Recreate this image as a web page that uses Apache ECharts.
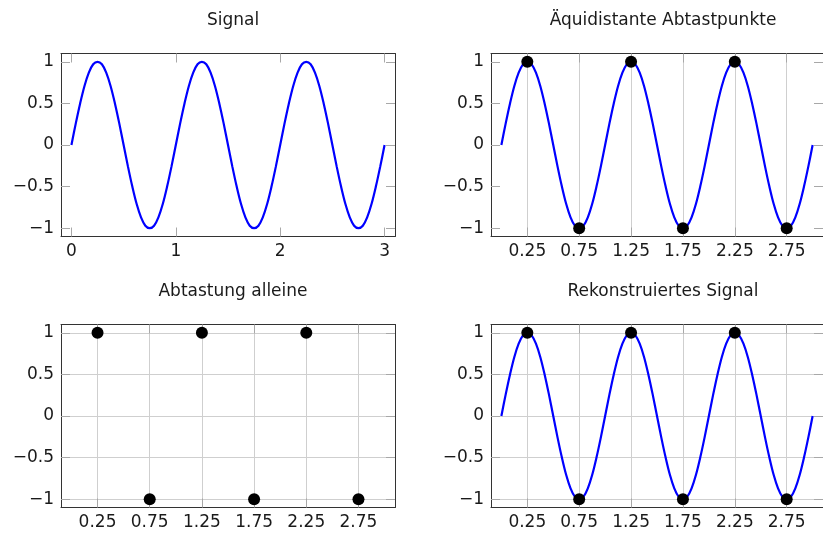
<!DOCTYPE html>
<html>
<head>
<meta charset="utf-8">
<script src="https://cdn.jsdelivr.net/npm/echarts@6/dist/echarts.min.js"></script>
<style>
  html, body { margin: 0; padding: 0; background: #fff; }
  #chart { width: 823px; height: 533px; }
</style>
</head>
<body>
<div id="chart"></div>
<script>
// Continuous signal, sampled finely along time t (step 1/24)
const signalT = [
  0, 0.0417, 0.0833, 0.125, 0.1667, 0.2083, 0.25, 0.2917, 0.3333, 0.375, 0.4167, 0.4583,
  0.5, 0.5417, 0.5833, 0.625, 0.6667, 0.7083, 0.75, 0.7917, 0.8333, 0.875, 0.9167, 0.9583,
  1, 1.0417, 1.0833, 1.125, 1.1667, 1.2083, 1.25, 1.2917, 1.3333, 1.375, 1.4167, 1.4583,
  1.5, 1.5417, 1.5833, 1.625, 1.6667, 1.7083, 1.75, 1.7917, 1.8333, 1.875, 1.9167, 1.9583,
  2, 2.0417, 2.0833, 2.125, 2.1667, 2.2083, 2.25, 2.2917, 2.3333, 2.375, 2.4167, 2.4583,
  2.5, 2.5417, 2.5833, 2.625, 2.6667, 2.7083, 2.75, 2.7917, 2.8333, 2.875, 2.9167, 2.9583,
  3
];
const signalY = [
  0, 0.26, 0.5, 0.71, 0.87, 0.97, 1, 0.97, 0.87, 0.71, 0.5, 0.26,
  0, -0.26, -0.5, -0.71, -0.87, -0.97, -1, -0.97, -0.87, -0.71, -0.5, -0.26,
  0, 0.26, 0.5, 0.71, 0.87, 0.97, 1, 0.97, 0.87, 0.71, 0.5, 0.26,
  0, -0.26, -0.5, -0.71, -0.87, -0.97, -1, -0.97, -0.87, -0.71, -0.5, -0.26,
  0, 0.26, 0.5, 0.71, 0.87, 0.97, 1, 0.97, 0.87, 0.71, 0.5, 0.26,
  0, -0.26, -0.5, -0.71, -0.87, -0.97, -1, -0.97, -0.87, -0.71, -0.5, -0.26,
  0
];
// Reconstructed signal (same course as the original)
const reconY = signalY.slice();

// Equidistant sample points
const sampleT = [0.25, 0.75, 1.25, 1.75, 2.25, 2.75];
const sampleY = [1, -1, 1, -1, 1, -1];

// Tick positions
const yTicks = [-1, -0.5, 0, 0.5, 1];
const xTicksSignal = [0, 1, 2, 3];
const xTicksSamples = [0.25, 0.75, 1.25, 1.75, 2.25, 2.75];

const titles = ['Signal', 'Äquidistante Abtastpunkte', 'Abtastung alleine', 'Rekonstruiertes Signal'];

const FONT = 'DejaVu Sans';
const pairs = (xs, ys) => xs.map((x, i) => [x, ys[i]]);
const fmt = v => String(v).replace('-', '\u2212');

// panel layout: plot boxes
const panels = [
  { left: 61,  top: 53.5,  xTicks: xTicksSignal,  xGrid: false, yGrid: false },
  { left: 491, top: 53.5,  xTicks: xTicksSamples, xGrid: true,  yGrid: false },
  { left: 61,  top: 324.5, xTicks: xTicksSamples, xGrid: true,  yGrid: true  },
  { left: 491, top: 324.5, xTicks: xTicksSamples, xGrid: true,  yGrid: true  }
];
const W = 334, H = 183;

const tickStyle = { color: '#a8a8a8', width: 1 };
const boxLine = { show: true, onZero: false, lineStyle: { color: '#333', width: 1 } };
const gridLine = { color: '#cfcfcf', width: 1 };

const grid = [], xAxis = [], yAxis = [], title = [];
panels.forEach((p, i) => {
  grid.push({ left: p.left, top: p.top, width: W, height: H, containLabel: false });
  title.push({
    text: titles[i], left: p.left + W / 2, textAlign: 'center', top: i < 2 ? 7 : 278,
    textStyle: { fontFamily: FONT, fontSize: 17, fontWeight: 'normal', color: '#1a1a1a' }
  });
  const baseX = {
    gridIndex: i, type: 'value', min: -0.1, max: 3.1,
    axisLine: boxLine,
    axisTick: { show: true, inside: true, length: 9, customValues: p.xTicks, lineStyle: tickStyle }
  };
  xAxis.push(Object.assign({}, baseX, {
    position: 'bottom',
    axisLabel: { customValues: p.xTicks, formatter: fmt, fontFamily: FONT, fontSize: 17, color: '#1a1a1a', margin: 7 },
    splitLine: { show: p.xGrid, lineStyle: gridLine }
  }));
  xAxis.push(Object.assign({}, baseX, {
    position: 'top', axisLabel: { show: false }, splitLine: { show: false }
  }));
  const baseY = {
    gridIndex: i, type: 'value', min: -1.1, max: 1.1,
    axisLine: boxLine,
    axisTick: { show: true, inside: true, length: 9, customValues: yTicks, lineStyle: tickStyle }
  };
  yAxis.push(Object.assign({}, baseY, {
    position: 'left',
    axisLabel: { customValues: yTicks, formatter: fmt, fontFamily: FONT, fontSize: 17, color: '#1a1a1a', margin: 7 },
    splitLine: { show: p.yGrid, lineStyle: gridLine }
  }));
  yAxis.push(Object.assign({}, baseY, {
    position: 'right', axisLabel: { show: false }, splitLine: { show: false }
  }));
});

const lineSeries = (i, ys) => ({
  type: 'line', xAxisIndex: 2 * i, yAxisIndex: 2 * i, data: pairs(signalT, ys),
  showSymbol: false, smooth: 0.35, silent: true, z: 3,
  lineStyle: { color: '#0000ff', width: 2.2 }
});
const dotSeries = i => ({
  type: 'scatter', xAxisIndex: 2 * i, yAxisIndex: 2 * i, data: pairs(sampleT, sampleY),
  symbol: 'circle', symbolSize: 12, itemStyle: { color: '#000', opacity: 1 }, silent: true, z: 5
});

const chart = echarts.init(document.getElementById('chart'), null, { renderer: 'canvas' });
chart.setOption({
  animation: false,
  backgroundColor: '#fff',
  title, grid, xAxis, yAxis,
  series: [
    lineSeries(0, signalY),
    lineSeries(1, signalY), dotSeries(1),
    dotSeries(2),
    lineSeries(3, reconY), dotSeries(3)
  ]
});
</script>
</body>
</html>
